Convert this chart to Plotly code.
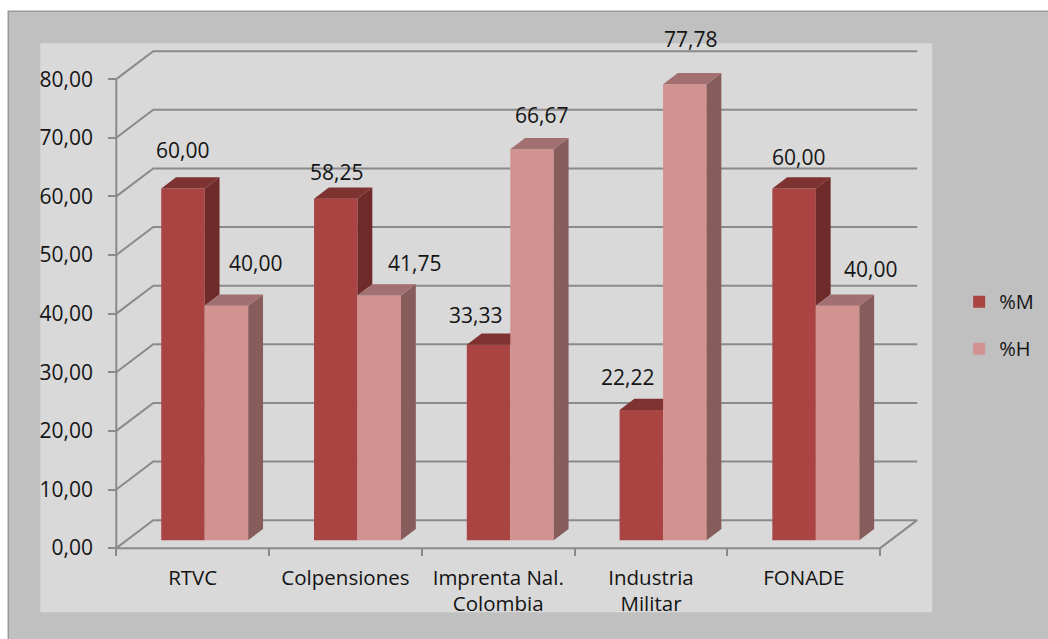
import plotly.graph_objects as go

# ---------------- data ----------------
categories = ["RTVC", "Colpensiones", "Imprenta Nal.<br>Colombia", "Industria<br>Militar", "FONADE"]
series_names = ["%M", "%H"]
pct_m = [60.00, 58.25, 33.33, 22.22, 60.00]
pct_h = [40.00, 41.75, 66.67, 77.78, 40.00]
y_ticks = [0, 10, 20, 30, 40, 50, 60, 70, 80]

# ---------------- style / layout ----------------
W, H = 1048, 639
SX = 152.8      # px per category
SY = 5.8625     # px per value unit
X0_PX, Y0_PX = 116, 548          # pixel of (x=-0.5, y=0) on the front plane
x_range = [-0.6, 4.8]
y_range = [-1, 86]
L = X0_PX + (x_range[0] + 0.5) * SX
R = W - (L + (x_range[1] - x_range[0]) * SX)
T = Y0_PX - y_range[1] * SY
B = H - (Y0_PX - y_range[0] * SY)
PW = W - L - R
PH = H - T - B

DX = 37 / SX     # depth offset in x units
DY = 28 / SY     # depth offset in y units
FRONT = 8 / 28   # bar front face depth fraction
BAR_D = 0.4      # bar depth fraction
GAP = 34.4 / SX
BW = 43.5 / SX

col_front = ["#a94442", "#d29290"]
col_side = ["#6e2b29", "#875d5c"]
col_top = ["#7f3331", "#a27070"]
grid_col = "#8a8a8a"
txt_col = "#141414"
FONT = "Open Sans"
FS_NUM = 21
FS_CAT = 20.5
FS_LEG = 20

# label pixel offsets (dx, dy) relative to bar front-top centre
lab_off_m = [(0, 38), (1, 27), (-13, 30), (-14, 33), (4, 31)]
lab_off_h = [(29, 43), (35, 32), (9, 34), (6, 45), (33, 37)]


def px2paper(px, py):
    return (px - L) / PW, (H - B - py) / PH


fig = go.Figure()

line_kw = dict(mode="lines", line=dict(color=grid_col, width=2), hoverinfo="skip", showlegend=False)

# side wall diagonals and back-wall gridlines
xs, ys = [], []
for v in y_ticks:
    xs += [-0.5, -0.5 + DX, 4.5 + DX, None]
    ys += [v, v + DY, v + DY, None]
fig.add_trace(go.Scatter(x=xs, y=ys, **line_kw))
# floor front edge + right edge, y axis line
fig.add_trace(go.Scatter(x=[-0.5, 4.5, 4.5 + DX], y=[0, 0, DY], **line_kw))
fig.add_trace(go.Scatter(x=[-0.5, -0.5], y=[0, y_ticks[-1]], **line_kw))


def bar_geom(i, s, v):
    xl = i - 0.5 + GAP + s * BW + FRONT * DX
    xr = xl + BW
    yb = FRONT * DY
    yt = yb + v
    return xl, xr, yb, yt


bdx, bdy = BAR_D * DX, BAR_D * DY
values = [pct_m, pct_h]

for s in range(2):
    fx, fy, sx_, sy_, tx, ty = [], [], [], [], [], []
    for i in range(len(categories)):
        v = values[s][i]
        xl, xr, yb, yt = bar_geom(i, s, v)
        fx += [xl, xr, xr, xl, xl, None]
        fy += [yb, yb, yt, yt, yb, None]
        # side face (for %M only the part above the neighbouring %H bar is visible)
        lo = yb
        if s == 0:
            lo = yb + pct_h[i]
        if yt > lo:
            sx_ += [xr, xr + bdx, xr + bdx, xr, xr, None]
            sy_ += [lo, lo + bdy, yt + bdy, yt, lo, None]
        tx += [xl, xr, xr + bdx, xl + bdx, xl, None]
        ty += [yt, yt, yt + bdy, yt + bdy, yt, None]
    for X, Y, c in [(fx, fy, col_front[s]), (sx_, sy_, col_side[s]), (tx, ty, col_top[s])]:
        fig.add_trace(go.Scatter(x=X, y=Y, mode="lines", fill="toself", fillcolor=c,
                                 line=dict(width=0, color=c), hoverinfo="skip",
                                 showlegend=False))

# legend proxies
for s in range(2):
    fig.add_trace(go.Scatter(x=[None], y=[None], mode="markers", name=series_names[s],
                             legendgroup=series_names[s],
                             marker=dict(symbol="square", size=12, color=col_front[s])))

# data labels
annotations = []
for s, offs in enumerate([lab_off_m, lab_off_h]):
    for i in range(len(categories)):
        v = values[s][i]
        xl, xr, yb, yt = bar_geom(i, s, v)
        annotations.append(dict(x=(xl + xr) / 2, y=yt, xref="x", yref="y",
                                text=f"{v:.2f}".replace(".", ","), showarrow=False,
                                xanchor="center", yanchor="middle",
                                xshift=offs[i][0], yshift=offs[i][1],
                                font=dict(family=FONT, size=FS_NUM, color=txt_col)))

# background panels
ox0, oy0 = px2paper(8, 11)
ox1, oy1 = px2paper(1060, 650)
px0, py0 = px2paper(40, 43)
px1, py1 = px2paper(932, 612)
shapes = [
    dict(type="rect", xref="paper", yref="paper", x0=ox0, y0=oy1, x1=ox1, y1=oy0,
         fillcolor="#c0c0c0", line=dict(color="#9a9a9a", width=1.5), layer="below"),
    dict(type="rect", xref="paper", yref="paper", x0=px0, y0=py1, x1=px1, y1=py0,
         fillcolor="#d9d9d9", line=dict(width=0), layer="below"),
]

lx, ly = px2paper(959, 325)

fig.update_layout(
    width=W, height=H,
    margin=dict(l=L, r=R, t=T, b=B, pad=0, autoexpand=False),
    paper_bgcolor="white", plot_bgcolor="rgba(0,0,0,0)",
    separators=",.",
    font=dict(family=FONT, size=FS_NUM, color=txt_col),
    showlegend=True,
    legend=dict(x=lx, y=ly, xanchor="left", yanchor="middle", bgcolor="rgba(0,0,0,0)",
                tracegroupgap=18, font=dict(family=FONT, size=FS_LEG, color=txt_col),
                itemsizing="constant"),
    xaxis=dict(range=x_range, anchor="free", position=(0 - y_range[0]) / (y_range[1] - y_range[0]),
               tickmode="array", tickvals=list(range(len(categories))), ticktext=categories,
               ticks="outside", ticklen=11, tickcolor="rgba(0,0,0,0)",
               showgrid=False, zeroline=False, showline=False,
               tickfont=dict(family=FONT, size=FS_CAT, color=txt_col)),
    xaxis2=dict(range=x_range, overlaying="x", anchor="free",
                position=(0 - y_range[0]) / (y_range[1] - y_range[0]),
                tickmode="array", tickvals=[i - 0.5 for i in range(len(categories) + 1)],
                showticklabels=False, ticks="outside", ticklen=7, tickwidth=2, tickcolor=grid_col,
                showgrid=False, zeroline=False, showline=False),
    yaxis=dict(range=y_range, anchor="free", position=(-0.5 - x_range[0]) / (x_range[1] - x_range[0]),
               tickmode="array", tickvals=y_ticks, tickformat=".2f",
               ticks="outside", ticklen=8, tickwidth=2, tickcolor=grid_col,
               ticklabelstandoff=11,
               showgrid=False, zeroline=False, showline=False,
               tickfont=dict(family=FONT, size=FS_NUM, color=txt_col)),
    annotations=annotations,
    shapes=shapes,
)
# dummy trace to activate xaxis2 ticks
fig.add_trace(go.Scatter(x=[None], y=[None], xaxis="x2", showlegend=False, hoverinfo="skip"))

fig.write_html("out.html", config={"displayModeBar": False},
               post_script="document.body.style.margin='0';document.body.style.padding='0';")
